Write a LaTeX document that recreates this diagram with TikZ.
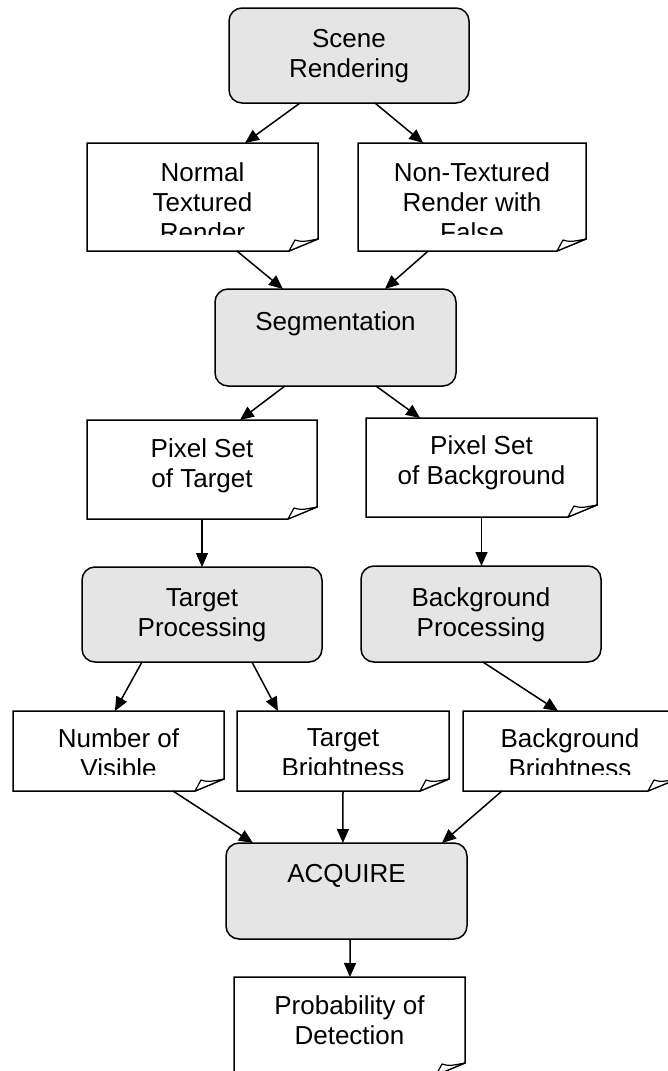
\documentclass[tikz,border=0pt]{standalone}
\usepackage{fontspec}
\setmainfont{Liberation Sans}
\usetikzlibrary{arrows.meta,calc}
\tikzset{
  proc/.style={draw, fill=black!10, rounded corners=13pt, line width=1.5pt, inner sep=0pt, outer sep=0pt},
  docb/.style={inner sep=0pt, outer sep=0pt},
  docline/.style={line width=1.5pt, line join=miter},
  txt/.style={font=\fontsize{26}{30}\selectfont, align=center, inner sep=0pt, anchor=north},
  arr/.style={line width=1.5pt, -{Triangle[length=14pt,width=12pt]}},
}
\newcommand\boxat[6]{\node[#1, minimum width={(#5-#3)*1pt}, minimum height={(#6-#4)*1pt}] (#2) at ({(#3+#5)/2},{(#4+#6)/2}) {};}
\newcommand\docpath[1]{%
  \draw[docline, fill=white] (#1.north west) -- (#1.north east) -- ($(#1.south east)+(0,-12)$) -- ($(#1.south east)+(-29,0)$) -- (#1.south west) -- cycle;
  \draw[line width=1.2pt, fill=white, line join=round] ($(#1.south east)+(-29,0)$) -- ($(#1.south east)+(-23,-11)$) .. controls ($(#1.south east)+(-16,-9)$) .. ($(#1.south east)+(0,-12)$) -- cycle;}
\begin{document}
\begin{tikzpicture}[x=1pt,y=-1pt]
\useasboundingbox (0,0) rectangle (667,1071);
% process boxes
\boxat{proc}{sr}{229}{8}{469}{103}
\boxat{proc}{seg}{215}{289}{456}{386}
\boxat{proc}{tp}{82}{567}{322}{662}
\boxat{proc}{bp}{361}{566}{601}{662}
\boxat{proc}{acq}{226}{843}{467}{939}
% document boxes
\boxat{docb}{ntr}{87}{143}{318}{251}
\boxat{docb}{nft}{358}{143}{586}{251}
\boxat{docb}{pst}{87}{420}{317}{519}
\boxat{docb}{psb}{366}{418}{597}{517}
\boxat{docb}{nov}{13}{711}{224}{791}
\boxat{docb}{tb}{237}{711}{449}{791}
\boxat{docb}{bb}{463}{711}{677}{791}
\boxat{docb}{pod}{234}{977}{465}{1075}
\docpath{ntr}\docpath{nft}\docpath{pst}\docpath{psb}
\docpath{nov}\docpath{tb}\docpath{bb}\docpath{pod}
% texts
\node[txt] (sr-t) at (349,29) {Scene\\Rendering};
\node[txt] (seg-t) at (335.5,311) {Segmentation};
\node[txt] (tp-t) at (202,588) {Target\\Processing};
\node[txt] (bp-t) at (481,587) {Background\\Processing};
\node[txt] (acq-t) at (346.5,864) {ACQUIRE};
\node[txt] (pst-t) at (202,438) {Pixel Set\\of Target};
\node[txt] (psb-t) at (481.5,435) {Pixel Set\\of Background};
\node[txt] (pod-t) at (349.5,995) {Probability of\\Detection};
\begin{scope}
  \clip (87,143) rectangle (586,234);
  \node[txt] (ntr-t) at (202.5,162) {Normal\\Textured\\Render};
  \node[txt] (nft-t) at (472,162) {Non-Textured\\Render with\\False};
\end{scope}
\begin{scope}
  \clip (0,711) rectangle (667,774);
  \node[txt] (nov-t) at (118.5,728.5) {Number of\\Visible};
  \node[txt] (tb-t) at (343,728.5) {Target\\Brightness};
  \node[txt] (bb-t) at (570,728.5) {Background\\Brightness};
\end{scope}
% connectors
\draw[arr] ($(sr.south west)!0.296!(sr.south east)$) -- ($(ntr.north west)!0.684!(ntr.north east)$);
\draw[arr] ($(sr.south west)!0.608!(sr.south east)$) -- ($(nft.north west)!0.286!(nft.north east)$);
\draw[arr] ($(ntr.south west)!0.649!(ntr.south east)$) -- ($(seg.north west)!0.282!(seg.north east)$);
\draw[arr] ($(nft.south west)!0.308!(nft.south east)$) -- ($(seg.north west)!0.705!(seg.north east)$);
\draw[arr] ($(seg.south west)!0.290!(seg.south east)$) -- ($(pst.north west)!0.665!(pst.north east)$);
\draw[arr] ($(seg.south west)!0.668!(seg.south east)$) -- ($(psb.north west)!0.234!(psb.north east)$);
\draw[arr] (pst.south) -- (pst.south |- tp.north);
\draw[arr] (psb.south) -- (psb.south |- bp.north);
\draw[arr] ($(tp.south west)!0.25!(tp.south east)$) -- ($(nov.north west)!0.483!(nov.north east)$);
\draw[arr] ($(tp.south west)!0.708!(tp.south east)$) -- ($(tb.north west)!0.193!(tb.north east)$);
\draw[arr] ($(bp.south west)!0.508!(bp.south east)$) -- ($(bb.north west)!0.444!(bb.north east)$);
\draw[arr] ($(nov.south west)!0.758!(nov.south east)$) -- ($(acq.north west)!0.112!(acq.north east)$);
\draw[arr] ($(tb.south west)!0.5!(tb.south east)$) -- ($(acq.north west)!0.485!(acq.north east)$);
\draw[arr] ($(bb.south west)!0.182!(bb.south east)$) -- ($(acq.north west)!0.896!(acq.north east)$);
\draw[arr] ($(acq.south west)!0.515!(acq.south east)$) -- ($(pod.north west)!0.502!(pod.north east)$);
\end{tikzpicture}
\end{document}
